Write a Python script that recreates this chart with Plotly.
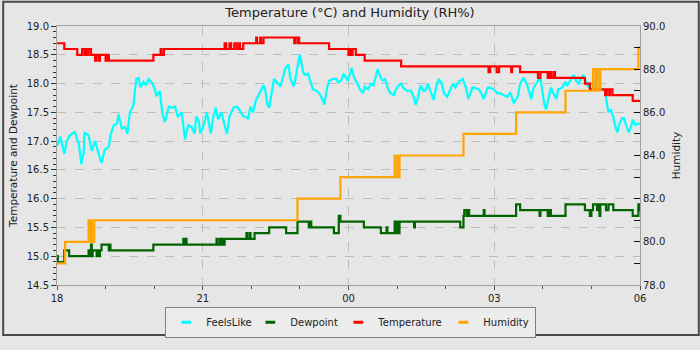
import pandas as pd
import plotly.graph_objects as go

# ---- data (minutes after 18:00) ----
base = pd.Timestamp("2024-01-01 18:00")

feels_t = [0, 1, 4, 9, 12, 16, 22, 27, 30, 33, 34, 39, 43, 47, 52, 55, 59, 64, 66, 70, 74, 76, 80, 84, 87, 90,
           94, 96, 98, 101, 103, 107, 110, 113, 117, 121, 123, 127, 130, 133, 135, 138, 144, 146, 149, 154, 158,
           160, 162, 166, 170, 172, 175, 177, 181, 185, 187, 190, 193, 196, 199, 203, 207, 210, 213, 218, 222,
           225, 230, 234, 236, 239, 242, 246, 250, 255, 257, 260, 262, 266, 268, 273, 276, 279, 282, 286, 288,
           292, 294, 298, 300, 304, 306, 310, 313, 316, 320, 324, 329, 330, 334, 336, 341, 345, 347, 351, 354,
           357, 359, 364, 367, 372, 374, 378, 380, 384, 388, 391, 396, 399, 402, 405, 409, 412, 416, 418, 421,
           425, 428, 433, 437, 441, 443, 446, 449, 453, 455, 458, 462, 465, 468, 471, 475, 478, 482, 485, 489,
           492, 496, 501, 505, 508, 513, 517, 521, 524, 527, 532, 535, 539, 544, 548, 551, 556, 560, 564, 569,
           572, 576, 580, 582, 586, 588, 593, 597, 599, 602, 604, 607, 610, 613, 617, 619, 624, 628, 630, 634,
           638, 641, 644, 647, 650, 654, 656, 660, 662, 666, 670, 674, 677, 679, 681, 684, 687, 689, 692, 694,
           698, 700, 704, 706, 709, 711, 714, 716, 720]
feels_v = [16.95, 16.94, 17.08, 16.78, 17.0, 17.1, 17.16, 16.95, 16.6, 16.8, 17.15, 17.1, 16.83, 17.0, 16.75,
           16.62, 16.85, 16.9, 17.1, 17.27, 17.3, 17.47, 17.22, 17.25, 17.13, 17.5, 17.6, 17.8, 18.08, 18.1,
           17.93, 18.03, 17.97, 18.08, 18.02, 17.9, 17.78, 17.87, 17.5, 17.33, 17.42, 17.6, 17.58, 17.6, 17.42,
           17.5, 17.03, 17.15, 17.27, 17.25, 17.13, 17.43, 17.35, 17.13, 17.27, 17.5, 17.35, 17.13, 17.43, 17.58,
           17.38, 17.5, 17.27, 17.13, 17.43, 17.58, 17.6, 17.55, 17.43, 17.42, 17.38, 17.6, 17.5, 17.72, 17.83,
           17.97, 17.9, 17.63, 17.58, 17.95, 18.08, 18.0, 17.95, 18.1, 18.27, 18.33, 18.1, 17.95, 18.05, 18.37,
           18.5, 18.2, 18.15, 18.17, 18.05, 17.9, 17.88, 17.83, 17.69, 17.63, 17.95, 18.05, 18.08, 18.08, 18.02,
           18.05, 18.17, 18.1, 18.05, 18.27, 18.1, 17.97, 17.9, 17.83, 17.95, 17.9, 18.0, 17.97, 18.25, 18.13,
           18.05, 18.08, 17.9, 17.83, 17.8, 17.88, 17.95, 18.0, 17.92, 17.87, 17.88, 17.75, 17.63, 17.77, 17.97,
           17.87, 17.88, 18.0, 17.83, 17.72, 17.92, 18.08, 18.0, 17.83, 17.77, 17.88, 18.0, 17.93, 18.03, 18.08,
           17.93, 17.73, 17.93, 17.92, 17.9, 17.83, 17.73, 17.93, 17.93, 17.9, 17.83, 17.83, 17.8, 17.77, 17.85,
           17.66, 17.77, 18.0, 18.1, 18.0, 17.9, 17.73, 17.9, 18.03, 18.1, 17.9, 17.63, 17.55, 17.72, 17.93,
           17.83, 17.73, 17.9, 17.93, 18.03, 17.97, 18.05, 18.15, 18.05, 18.0, 18.08, 18.15, 18.0, 17.95, 18.0,
           18.03, 17.93, 17.9, 17.9, 17.85, 17.67, 17.5, 17.55, 17.42, 17.28, 17.15, 17.28, 17.4, 17.4, 17.25,
           17.15, 17.25, 17.37, 17.28, 17.3, 17.3]

dew_t = [0, 1, 9, 15, 39, 41, 42, 43, 44, 49, 50, 52, 53, 55, 64, 65, 66, 119, 156, 157, 159, 160, 197, 198,
         201, 202, 204, 206, 207, 234, 235, 238, 239, 244, 262, 283, 297, 311, 312, 314, 342, 348, 350, 379,
         400, 407, 408, 417, 418, 420, 421, 423, 441, 442, 498, 502, 503, 506, 508, 509, 527, 528, 567, 572,
         596, 597, 606, 608, 610, 628, 652, 658, 660, 662, 667, 668, 670, 671, 678, 681, 687, 711, 718, 719, 720]
dew_v = [15.0, 14.9, 15.1, 15.0, 15.1, 15.0, 15.2, 15.0, 15.1, 15.0, 15.1, 15.0, 15.1, 15.2, 15.1, 15.2, 15.1,
         15.2, 15.3, 15.2, 15.3, 15.2, 15.3, 15.2, 15.3, 15.2, 15.3, 15.2, 15.3, 15.4, 15.3, 15.4, 15.3, 15.4,
         15.5, 15.4, 15.6, 15.5, 15.6, 15.5, 15.4, 15.7, 15.6, 15.5, 15.4, 15.5, 15.4, 15.6, 15.4, 15.6, 15.4,
         15.6, 15.5, 15.6, 15.5, 15.7, 15.8, 15.7, 15.8, 15.7, 15.8, 15.7, 15.9, 15.8, 15.7, 15.8, 15.7, 15.8,
         15.7, 15.9, 15.8, 15.7, 15.8, 15.9, 15.8, 15.9, 15.7, 15.9, 15.8, 15.9, 15.8, 15.7, 15.9, 15.8, 15.8]

temp_t = [0, 9, 25, 31, 34, 36, 38, 39, 42, 47, 49, 52, 53, 60, 62, 64, 119, 128, 129, 132, 207, 209, 213, 215,
          219, 222, 225, 226, 230, 246, 247, 251, 252, 255, 293, 294, 297, 298, 299, 336, 360, 362, 364, 365,
          369, 380, 425, 533, 535, 543, 546, 561, 562, 572, 594, 597, 606, 608, 610, 613, 615, 652, 658, 677,
          679, 682, 683, 686, 711, 720]
temp_v = [18.7, 18.6, 18.5, 18.6, 18.5, 18.6, 18.5, 18.6, 18.5, 18.4, 18.5, 18.4, 18.5, 18.4, 18.5, 18.4, 18.5,
          18.6, 18.5, 18.6, 18.7, 18.6, 18.7, 18.6, 18.7, 18.6, 18.7, 18.6, 18.7, 18.8, 18.7, 18.8, 18.7, 18.8,
          18.7, 18.8, 18.7, 18.8, 18.7, 18.6, 18.5, 18.6, 18.5, 18.6, 18.5, 18.4, 18.3, 18.2, 18.3, 18.2, 18.3,
          18.2, 18.3, 18.2, 18.1, 18.2, 18.1, 18.2, 18.1, 18.2, 18.1, 18.0, 17.9, 17.8, 17.9, 17.8, 17.9, 17.8,
          17.7, 17.7]

hum_t = [0, 10, 39, 41, 42, 43, 46, 297, 350, 417, 418, 421, 422, 423, 502, 567, 628, 662, 665, 667, 670, 671,
         718, 720]
hum_v = [79, 80, 81, 80, 81, 80, 81, 82, 83, 84, 83, 84, 83, 84, 85, 86, 87, 88, 87, 88, 87, 88, 89, 89]

series_names = ["FeelsLike", "Dewpoint", "Temperature", "Humidity"]
series_colors = ["#00ffff", "#006400", "#ff0000", "#ffa500"]
legend_widths = [39, 43, 60, 47]


def to_time(mins):
    return [base + pd.Timedelta(minutes=m) for m in mins]


FONT = "DejaVu Sans"
BG = "#e6e6e6"
LW = 2.2

fig = go.Figure()
fig.add_trace(go.Scatter(x=to_time(feels_t), y=feels_v, mode="lines", line=dict(color=series_colors[0], width=LW),
                         showlegend=False, hoverinfo="skip"))
fig.add_trace(go.Scatter(x=to_time(dew_t), y=dew_v, mode="lines", line=dict(color=series_colors[1], width=LW, shape="hv"),
                         showlegend=False, hoverinfo="skip"))
fig.add_trace(go.Scatter(x=to_time(temp_t), y=temp_v, mode="lines", line=dict(color=series_colors[2], width=LW, shape="hv"),
                         showlegend=False, hoverinfo="skip"))
fig.add_trace(go.Scatter(x=to_time(hum_t), y=hum_v, mode="lines", line=dict(color=series_colors[3], width=LW, shape="hv"),
                         yaxis="y2", showlegend=False, hoverinfo="skip"))

for name, col, lw in zip(series_names, series_colors, legend_widths):
    fig.add_trace(go.Scatter(x=[None], y=[None], mode="markers", name=name, legendwidth=lw,
                             marker=dict(symbol="line-ew", size=7, color=col, line=dict(color=col, width=3))))

grid = dict(showgrid=True, gridcolor="#bdbdbd", griddash="dash", gridwidth=1)

fig.update_layout(
    width=700, height=350,
    margin=dict(l=55, r=60, t=26, b=53),
    paper_bgcolor=BG, plot_bgcolor=BG,
    font=dict(family=FONT, size=10, color="#222"),
    title=dict(text="Temperature (°C) and Humidity (RH%)", x=0.5, xanchor="center",
               y=1 - 12 / 350, yanchor="middle", yref="container",
               font=dict(family=FONT, size=13, color="#222")),
    xaxis=dict(type="date", range=[base, base + pd.Timedelta(hours=12)],
               tick0=base, dtick=3 * 3600000, tickformat="%H",
               ticks="outside", ticklen=4, tickcolor="#555",
               minor=dict(dtick=3600000, ticks="outside", ticklen=3, tickcolor="#555", showgrid=False),
               showline=True, linecolor="#a0a0a0", linewidth=1, mirror=True,
               zeroline=False, **grid),
    yaxis=dict(range=[14.5, 19.0], dtick=0.5, tick0=14.5, tickformat=".1f",
               ticks="outside", ticklen=5, tickcolor="#333",
               minor=dict(dtick=0.1, ticks="outside", ticklen=3, tickcolor="#333", showgrid=False),
               showline=True, linecolor="#a0a0a0", linewidth=1, zeroline=False,
               title=dict(text="Temperature and Dewpoint", font=dict(size=10.5), standoff=7),
               **grid),
    yaxis2=dict(range=[78, 90], dtick=2, tick0=78, tickformat=".1f", overlaying="y", side="right",
                ticks="inside", ticklen=6, tickcolor="#111",
                minor=dict(dtick=1, ticks="inside", ticklen=6, tickcolor="#111", showgrid=False),
                showline=True, linecolor="#a0a0a0", linewidth=1, showgrid=False, zeroline=False,
                title=dict(text="Humidity", font=dict(size=10.5), standoff=8)),
    legend=dict(orientation="h", x=0.504, xanchor="center", y=(296.7 - 335.5) / 270.4, yanchor="middle",
                bgcolor="#ececec", bordercolor="#808080", borderwidth=1, font=dict(size=10),
                traceorder="normal"),
    shapes=[dict(type="rect", xref="paper", yref="paper",
                 x0=-54 / 585, x1=644 / 585, y0=-52.3 / 270.4, y1=295.7 / 270.4,
                 line=dict(color="#4a4a4a", width=2), fillcolor="rgba(0,0,0,0)", layer="above")],
)

fig.write_html("out.html")
